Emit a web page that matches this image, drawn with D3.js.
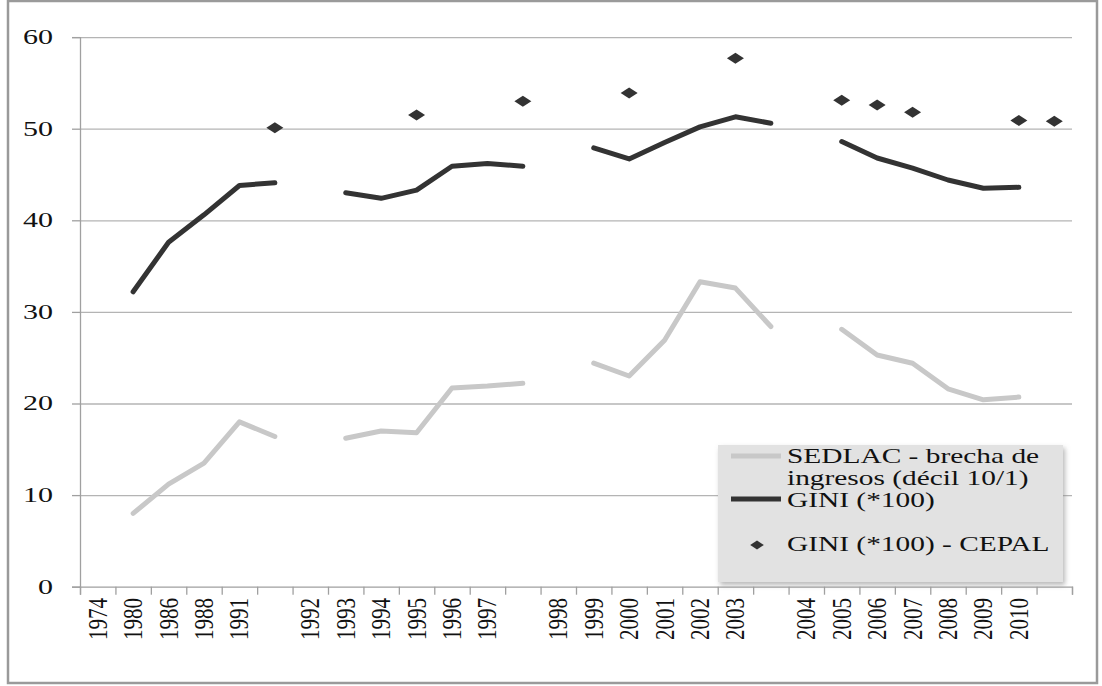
<!DOCTYPE html>
<html>
<head>
<meta charset="utf-8">
<script src="https://cdn.jsdelivr.net/npm/d3@7"></script>
<style>
  body { margin: 0; background: #fff; }
  svg text { font-family: "Liberation Serif", "Times New Roman", serif; fill: #111; }
</style>
</head>
<body>
<script>
// categories on the x axis (blank ones are the empty Excel columns)
var years = ["1974", "1980", "1986", "1988", "1991", "", "1992", "1993", "1994", "1995", "1996", "1997", "",
    "1998", "1999", "2000", "2001", "2002", "2003", "", "2004", "2005", "2006", "2007", "2008", "2009", "2010", ""];

// SEDLAC - brecha de ingresos (decil 10/1)
var sedlac = [null, 8.0, 11.2, 13.5, 18.0, 16.4, null, 16.2, 17.0, 16.8, 21.7, 21.9, 22.2,
    null, 24.4, 23.0, 26.9, 33.3, 32.6, 28.4, null, 28.1, 25.3, 24.4, 21.6, 20.4, 20.7, null];

// GINI (*100)
var gini = [null, 32.2, 37.6, 40.6, 43.8, 44.1, null, 43.0, 42.4, 43.3, 45.9, 46.2, 45.9,
    null, 47.9, 46.7, 48.5, 50.2, 51.3, 50.6, null, 48.6, 46.8, 45.7, 44.4, 43.5, 43.6, null];

// GINI (*100) - CEPAL
var cepal = [null, null, null, null, null, 50.1, null, null, null, 51.5, null, null, 53.0,
    null, null, 53.9, null, null, 57.7, null, null, 53.1, 52.6, 51.8, null, null, 50.9, 50.8];

var yTicks = [0, 10, 20, 30, 40, 50, 60];

var width = 1102,
    height = 686;

var svg = d3.select("body")
    .append("svg")
    .attr("width", width)
    .attr("height", height);

// soft shadow for the legend box
var defs = svg.append("defs");
defs.append("filter")
    .attr("id", "shadow")
    .attr("x", "-10%").attr("y", "-10%")
    .attr("width", "120%").attr("height", "130%")
    .append("feDropShadow")
    .attr("dx", 2).attr("dy", 3)
    .attr("stdDeviation", 2.5)
    .attr("flood-color", "#888")
    .attr("flood-opacity", 0.6);

// outer frame
svg.append("rect")
    .attr("x", 8).attr("y", 1)
    .attr("width", 1089).attr("height", 682)
    .attr("fill", "none")
    .attr("stroke", "#9a9a9a")
    .attr("stroke-width", 2.5);

var plot = {left: 80, right: 1072, top: 37.1, bottom: 586.7};

var x = d3.scaleBand()
    .domain(d3.range(years.length))
    .range([plot.left, plot.right]);

// linear scale over band boundaries, used for the tick marks
var xEdge = d3.scaleLinear()
    .domain([0, years.length])
    .range([plot.left, plot.right]);

var y = d3.scaleLinear()
    .domain([0, 60])
    .range([plot.bottom, plot.top]);

//horizontal grid lines
svg.append("g")
    .attr("class", "grid")
    .attr("transform", "translate(" + plot.left + ",0)")
    .call(d3.axisLeft(y)
        .tickValues(yTicks.slice(1))
        .tickSize(-(plot.right - plot.left))
        .tickFormat("")
    )
    .call(function (g) {
        g.select(".domain").remove();
        g.selectAll("line").attr("stroke", "#b4b4b4").attr("stroke-width", 1.3);
    });

//y axis
var yAxis = svg.append("g")
    .attr("transform", "translate(" + plot.left + ",0)")
    .call(d3.axisLeft(y).tickValues(yTicks).tickSize(8).tickFormat(""));
yAxis.select(".domain").attr("stroke", "#a0a0a0").attr("stroke-width", 1.3);
yAxis.selectAll("line").attr("stroke", "#a0a0a0").attr("stroke-width", 1.3);

svg.append("g")
    .selectAll("text")
    .data(yTicks)
    .enter()
    .append("text")
    .attr("transform", function (d) { return "translate(53," + y(d) + ") scale(1.5,1)"; })
    .attr("dy", "0.34em")
    .attr("text-anchor", "end")
    .style("font-size", "20px")
    .text(function (d) { return d; });

//x axis with tick marks on the band edges
var xAxis = svg.append("g")
    .attr("transform", "translate(0," + plot.bottom + ")")
    .call(d3.axisBottom(xEdge).tickValues(d3.range(years.length + 1)).tickSize(8).tickFormat(""));
xAxis.select(".domain").attr("stroke", "#a0a0a0").attr("stroke-width", 1.3);
xAxis.selectAll("line").attr("stroke", "#a0a0a0").attr("stroke-width", 1.3);

svg.append("g")
    .selectAll("text")
    .data(years)
    .enter()
    .append("text")
    .attr("transform", function (d, i) {
        return "translate(" + (x(i) + x.bandwidth() / 2) + ",598) scale(1.25,1) rotate(-90)";
    })
    .attr("dy", "0.34em")
    .attr("text-anchor", "end")
    .style("font-size", "21px")
    .text(function (d) { return d; });

//lines
var line = d3.line()
    .defined(function (d) { return d != null; })
    .x(function (d, i) { return x(i) + x.bandwidth() / 2; })
    .y(function (d) { return y(d); });

svg.append("path")
    .datum(sedlac)
    .attr("fill", "none")
    .attr("stroke", "#c8c8c8")
    .attr("stroke-width", 5)
    .attr("stroke-linejoin", "round")
    .attr("stroke-linecap", "round")
    .attr("d", line);

svg.append("path")
    .datum(gini)
    .attr("fill", "none")
    .attr("stroke", "#333")
    .attr("stroke-width", 5)
    .attr("stroke-linejoin", "round")
    .attr("stroke-linecap", "round")
    .attr("d", line);

//diamonds (wider than tall, like the stretched original)
var diamond = "M-8.5,0L0,-5.5L8.5,0L0,5.5Z";
svg.append("g")
    .selectAll("path")
    .data(cepal.map(function (v, i) { return {v: v, i: i}; }).filter(function (d) { return d.v != null; }))
    .enter()
    .append("path")
    .attr("d", diamond)
    .attr("fill", "#333")
    .attr("transform", function (d) {
        return "translate(" + (x(d.i) + x.bandwidth() / 2) + "," + y(d.v) + ")";
    });

//legend
var legend = svg.append("g");
legend.append("rect")
    .attr("x", 718).attr("y", 445)
    .attr("width", 345).attr("height", 137)
    .attr("fill", "#e2e2e2")
    .attr("filter", "url(#shadow)");

legend.append("line")
    .attr("x1", 731).attr("x2", 781)
    .attr("y1", 456).attr("y2", 456)
    .attr("stroke", "#c8c8c8").attr("stroke-width", 5);
legend.append("line")
    .attr("x1", 731).attr("x2", 781)
    .attr("y1", 499).attr("y2", 499)
    .attr("stroke", "#333").attr("stroke-width", 5);
legend.append("path")
    .attr("d", diamond)
    .attr("fill", "#333")
    .attr("transform", "translate(757,545) scale(0.8)");

var legendText = [
    {t: "SEDLAC - brecha de", y: 463},
    {t: "ingresos (décil 10/1)", y: 485},
    {t: "GINI (*100)", y: 507},
    {t: "GINI (*100) - CEPAL", y: 551}
];
legend.selectAll("text")
    .data(legendText)
    .enter()
    .append("text")
    .attr("transform", function (d) { return "translate(787," + d.y + ") scale(1.4,1)"; })
    .style("font-size", "21px")
    .text(function (d) { return d.t; });
</script>
</body>
</html>
